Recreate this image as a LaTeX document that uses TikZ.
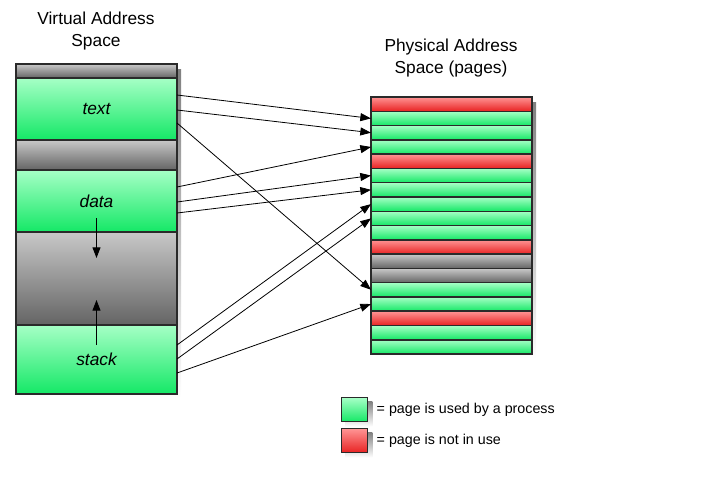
\documentclass[tikz,border=0pt]{standalone}
\usepackage{fontspec}
\setmainfont{Liberation Sans}
\usepackage{tikz}
\usetikzlibrary{arrows.meta,positioning,calc,backgrounds}
\definecolor{edge}{HTML}{2A2A2A}
\definecolor{shade}{HTML}{A6A6A6}
\definecolor{grnL}{HTML}{A6FFC6}
\definecolor{grnD}{HTML}{14E866}
\definecolor{redL}{HTML}{FF9494}
\definecolor{redD}{HTML}{E82222}
\definecolor{gryL}{HTML}{C8C8C8}
\definecolor{gryD}{HTML}{646464}

\begin{document}
\begin{tikzpicture}[x=0.75pt,y=-0.75pt,>={Triangle[length=8pt,width=6pt]},
   blk/.style={draw=edge,line width=1.1pt,inner sep=0pt,outer sep=0pt,anchor=north west,minimum width=120.75pt,minimum height=#1*0.75pt,font=\fontsize{13}{16}\selectfont\itshape},
   pg/.style={draw=edge,line width=1.1pt,inner sep=0pt,outer sep=0pt,anchor=north west,minimum width=120.75pt,minimum height=10.71pt},
   used/.style={top color=grnL,bottom color=grnD},
   free/.style={top color=redL,bottom color=redD},
   gap/.style={top color=gryL,bottom color=gryD},
   key/.style={draw=edge,line width=1.1pt,inner sep=0pt,minimum width=19.5pt,minimum height=18pt},
   keytxt/.style={anchor=west,inner sep=0pt,font=\fontsize{10.7}{13}\selectfont},
   ttl/.style={align=center,font=\fontsize{13}{16.5}\selectfont}]
  \useasboundingbox (0,0) rectangle (713,486);
  % virtual address space
  \node[ttl] (vtitle) at (96,31) {Virtual Address\\Space};
  \node[blk=14,gap] (top) at (16,64) {};
  \node[blk=62,used] (text) at (16,78) {text};
  \node[blk=30,gap] (hole) at (16,140) {};
  \node[blk=62,used] (data) at (16,170) {data};
  \node[blk=93,gap] (heap) at (16,232) {};
  \node[blk=69,used] (stack) at (16,325) {stack};
  \draw[->,line width=0.7pt] ($(data.south)+(0,-14)$) -- ($(heap.north)+(0,26)$);
  \draw[->,line width=0.7pt] ($(stack.north)+(0,20)$) -- ($(heap.south)+(0,-25)$);
  % physical address space
  \node[ttl] (ptitle) at (451,58) {Physical Address\\Space (pages)};
  \foreach \c [count=\i] in {free,used,used,used,free,used,used,used,used,used,free,gap,gap,used,used,free,used,used}{
     \node[pg,\c] (p\i) at (371,{97+(\i-1)*14.28}) {};}
  \begin{scope}[on background layer]
    \fill[shade] ([shift={(4pt,-4pt)}]top.north west) rectangle ([shift={(3pt,-3pt)}]stack.south east);
    \fill[shade] ([shift={(4pt,-4pt)}]p1.north west) rectangle ([shift={(3pt,-3pt)}]p18.south east);
  \end{scope}
  % page mapping
  \foreach \s/\dy/\t in {text/17/p2,text/32/p3,text/45/p14,data/17/p4,data/32/p6,data/43/p7,stack/20/p8,stack/34/p9,stack/48/p15}{
     \draw[->,line width=0.6pt] ($(\s.north east)+(0,\dy)$) -- (\t.west);}
  % legend
  \node[key,used,anchor=north west] (k1) at (341,397) {};
  \node[key,free,anchor=north west] (k2) at (341,428) {};
  \begin{scope}[on background layer]
    \fill[shade] ([shift={(3pt,-3pt)}]k1.north west) rectangle ([shift={(3pt,-3pt)}]k1.south east);
    \fill[shade] ([shift={(3pt,-3pt)}]k2.north west) rectangle ([shift={(3pt,-3pt)}]k2.south east);
  \end{scope}
  \node[keytxt,right=6pt of k1] (t1) {= page is used by a process};
  \node[keytxt,right=6pt of k2] (t2) {= page is not in use};
\end{tikzpicture}
\end{document}
